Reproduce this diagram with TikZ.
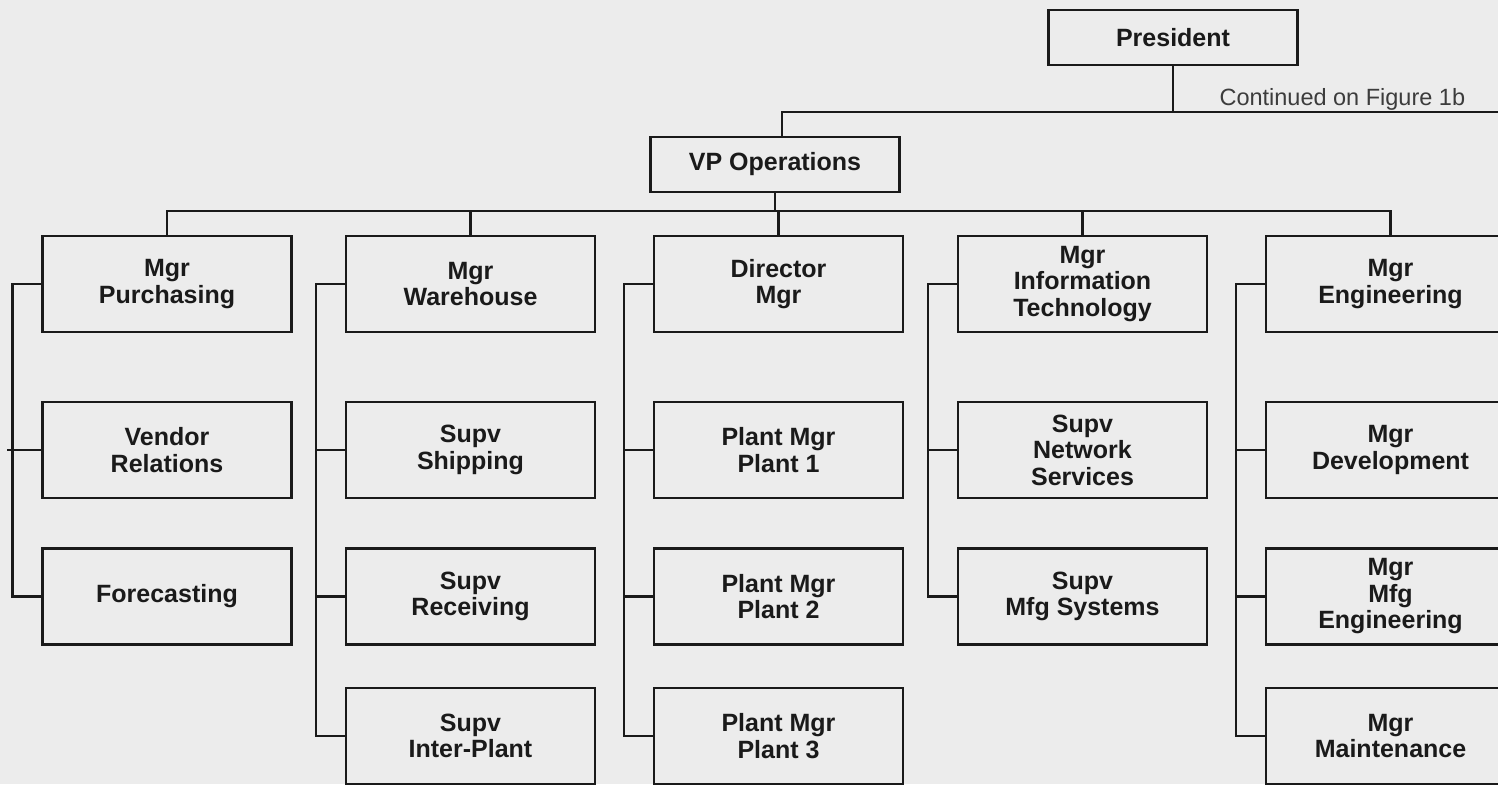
\documentclass[tikz,border=0pt]{standalone}
\usepackage{fontspec}
\setmainfont{Liberation Sans}
\usetikzlibrary{arrows}
\definecolor{paper}{HTML}{ECECEC}
\definecolor{ink}{HTML}{1A1A1A}

\begin{document}
\begin{tikzpicture}[x=1pt,y=-1pt,line width=2.4pt,draw=ink,
  box/.style={draw,minimum width=249,minimum height=96,inner sep=0pt,align=center,
    text=ink,font=\fontsize{25}{26.5}\selectfont\bfseries},
  topbox/.style={box,minimum height=55}]

  \fill[paper] (0,0) rectangle (1498,784);
  \useasboundingbox (0,0) rectangle (1498,784);
  \clip (0,0) rectangle (1498,784);

  \node[topbox] (pres) at (1173,37.5) {President};
  \node[topbox] (vp) at (775,164.5) {VP Operations};
  \node[anchor=base west,text=ink!85,font=\fontsize{23.5}{25}\selectfont] (contd) at (1215,105) {Continued on Figure 1b};

  % column 1
  \node[box] (pur) at (167,284) {Mgr\\Purchasing};
  \node[box] (ven) at (167,450) {Vendor\\Relations};
  \node[box] (fore) at (167,596.5) {Forecasting};
  % column 2
  \node[box] (war) at (470.5,284) {Mgr\\Warehouse};
  \node[box] (ship) at (470.5,450) {Supv\\Shipping};
  \node[box] (recv) at (470.5,596.5) {Supv\\Receiving};
  \node[box] (inter) at (470.5,736) {Supv\\Inter-Plant};
  % column 3
  \node[box] (dir) at (778.5,284) {Director\\Mgr};
  \node[box] (plone) at (778.5,450) {Plant Mgr\\Plant 1};
  \node[box] (pltwo) at (778.5,596.5) {Plant Mgr\\Plant 2};
  \node[box] (plthree) at (778.5,736) {Plant Mgr\\Plant 3};
  % column 4
  \node[box] (it) at (1082.5,284) {Mgr\\Information\\Technology};
  \node[box] (net) at (1082.5,450) {Supv\\Network\\Services};
  \node[box] (mfgsys) at (1082.5,596.5) {Supv\\Mfg Systems};
  % column 5
  \node[box] (eng) at (1390.5,284) {Mgr\\Engineering};
  \node[box] (dev) at (1390.5,450) {Mgr\\Development};
  \node[box] (mfgeng) at (1390.5,596.5) {Mgr\\Mfg\\Engineering};
  \node[box] (maint) at (1390.5,736) {Mgr\\Maintenance};

  \coordinate (edge) at (1498,112);
  \coordinate (bus) at (0,211);
  \draw (pres.south) -- (pres.south |- edge);
  \draw ([xshift=7]vp.north) |- (edge);

  \draw (vp.south) -- (vp.south |- bus);
  \draw (pur.north) |- (bus -| eng.north) -- (eng.north);
  \foreach \n in {war,dir,it}
    \draw (\n.north) -- (\n.north |- bus);

  \foreach \t/\b in {pur/fore,war/inter,dir/plthree,it/mfgsys,eng/maint}
    \draw (\t.west) -- ++(-29,0) |- (\b.west);
  \foreach \n in {ship,recv,plone,pltwo,net,dev,mfgeng}
    \draw (\n.west) -- ++(-29,0);
  \draw (ven.west) -- ++(-34,0);

\end{tikzpicture}
\end{document}
